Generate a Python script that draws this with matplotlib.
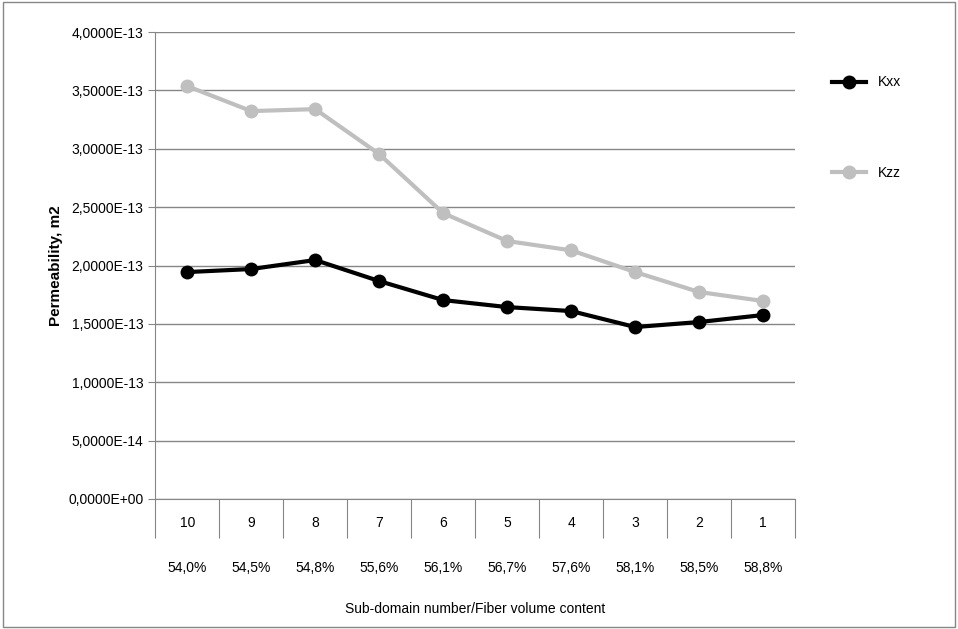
import matplotlib.pyplot as plt
from matplotlib.ticker import FuncFormatter

# ==============================
# Data
# ==============================

subdomains = ["10", "9", "8", "7", "6", "5", "4", "3", "2", "1"]
fiber_content = ["54,0%", "54,5%", "54,8%", "55,6%", "56,1%", "56,7%", "57,6%", "58,1%", "58,5%", "58,8%"]

kxx = [1.944e-13, 1.970e-13, 2.047e-13, 1.867e-13, 1.704e-13, 1.644e-13, 1.610e-13, 1.473e-13, 1.516e-13, 1.576e-13]
kzz = [3.537e-13, 3.323e-13, 3.340e-13, 2.955e-13, 2.449e-13, 2.210e-13, 2.130e-13, 1.944e-13, 1.773e-13, 1.696e-13]

plt.rcParams['font.family'] = ['Liberation Sans', 'DejaVu Sans']

fig = plt.figure(figsize=(9.58, 6.29), dpi=100)
ax = fig.add_axes([0.162, 0.2067, 0.668, 0.7423])

x = range(len(subdomains))
ax.plot(x, kxx, color="black", lw=3, marker="o", ms=9, label="Kxx")
ax.plot(x, kzz, color="#bfbfbf", lw=3, marker="o", ms=9, label="Kzz")

ax.set_xlim(-0.5, len(subdomains) - 0.5)
ax.set_ylim(0, 4e-13)
ax.set_yticks([i * 0.5e-13 for i in range(9)])


def sci(v, pos):
    s = "%.4E" % v
    mant, exp = s.split("E")
    return mant.replace(".", ",") + "E" + exp


ax.yaxis.set_major_formatter(FuncFormatter(sci))
ax.grid(axis="y", color="#868686", lw=1)
ax.set_axisbelow(True)
for side in ["top", "right"]:
    ax.spines[side].set_visible(False)
ax.spines["left"].set_color("#868686")
ax.spines["bottom"].set_color("#868686")
ax.tick_params(axis="y", length=5, color="#868686", labelsize=10)

# category boundaries as tick marks
ax.set_xticks([i - 0.5 for i in range(len(subdomains) + 1)])
ax.set_xticklabels([])
ax.tick_params(axis="x", length=28, color="#868686")
for i in x:
    ax.text(i, -0.21e-13, subdomains[i], ha="center", va="center", fontsize=10)
    ax.text(i, -0.59e-13, fiber_content[i], ha="center", va="center", fontsize=10)

ax.set_ylabel("Permeability, m2", fontsize=11, fontweight="bold")
ax.text(4.5, -0.94e-13, "Sub-domain number/Fiber volume content", ha="center", va="center", fontsize=10)

fig.legend(loc="upper left", bbox_to_anchor=(0.855, 0.9), frameon=False,
           labelspacing=5.5, fontsize=10, handlelength=2.5)

fig.patches.append(plt.Rectangle((0.003, 0.003), 0.994, 0.994, transform=fig.transFigure,
                                 fill=False, edgecolor="#868686", lw=1))

plt.savefig("out.png")
